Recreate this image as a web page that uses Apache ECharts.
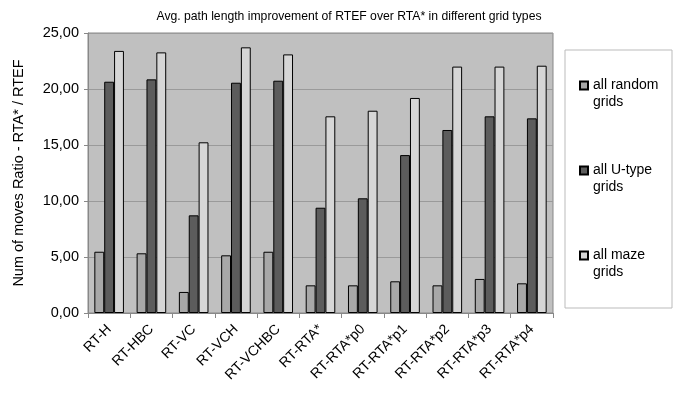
<!DOCTYPE html>
<html>
<head>
<meta charset="utf-8">
<script src="https://cdn.jsdelivr.net/npm/echarts@6/dist/echarts.min.js"></script>
<style>
  html, body { margin: 0; padding: 0; background: #fff; }
  #chart { width: 688px; height: 394px; }
</style>
</head>
<body>
<div id="chart"></div>
<script>
// Grid variants compared
const categories = ['RT-H', 'RT-HBC', 'RT-VC', 'RT-VCH', 'RT-VCHBC', 'RT-RTA*',
  'RT-RTA*p0', 'RT-RTA*p1', 'RT-RTA*p2', 'RT-RTA*p3', 'RT-RTA*p4'];

// Ratio RTA* / RTEF per grid type
const randomGrids = [5.47, 5.33, 1.88, 5.15, 5.47, 2.47, 2.47, 2.83, 2.47, 3.04, 2.65];
const uTypeGrids  = [20.65, 20.86, 8.72, 20.56, 20.74, 9.40, 10.24, 14.10, 16.34, 17.56, 17.38];
const mazeGrids   = [23.40, 23.27, 15.24, 23.72, 23.09, 17.56, 18.06, 19.20, 22.00, 22.00, 22.08];

const seriesNames = ['all random grids', 'all U-type grids', 'all maze grids'];
const legendLabels = ['all random\ngrids', 'all U-type\ngrids', 'all maze\ngrids'];

const chart = echarts.init(document.getElementById('chart'));
const font = 'Liberation Sans, Arial, sans-serif';

const barSeries = (name, data, color) => ({
  name: name,
  type: 'bar',
  data: data,
  barGap: '0%',
  barCategoryGap: '30%',
  itemStyle: { color: color, borderColor: '#000', borderWidth: 1 },
  emphasis: { disabled: true }
});

chart.setOption({
  animation: false,
  textStyle: { fontFamily: font },
  title: {
    text: 'Avg. path length improvement of RTEF over RTA* in different grid types',
    left: 344,
    textAlign: 'center',
    top: 6,
    textStyle: { fontSize: 12.2, fontWeight: 'normal', color: '#000', fontFamily: font }
  },
  grid: {
    left: 88, right: 135, top: 33, bottom: 81,
    show: true,
    backgroundColor: '#c0c0c0',
    borderColor: '#888',
    borderWidth: 1
  },
  graphic: [{
    type: 'rect',
    shape: { x: 565, y: 50, width: 107, height: 258 },
    style: { fill: '#fff', stroke: '#bbb', lineWidth: 1 },
    z: 0
  }],
  legend: {
    orient: 'vertical',
    left: 574,
    top: 55,
    itemGap: 34,
    itemWidth: 8,
    itemHeight: 8,
    selectedMode: false,
    data: seriesNames.map(n => ({ name: n, icon: 'rect' })),
    formatter: name => ' \n' + legendLabels[seriesNames.indexOf(name)],
    textStyle: { fontSize: 14, color: '#000', lineHeight: 17, fontFamily: font }
  },
  xAxis: {
    type: 'category',
    data: categories,
    axisLine: { lineStyle: { color: '#888' } },
    axisTick: { show: true, length: 5, lineStyle: { color: '#888' } },
    axisLabel: { rotate: 45, fontSize: 14, color: '#000', margin: 14, interval: 0 }
  },
  yAxis: {
    type: 'value',
    name: 'Num of moves Ratio - RTA* / RTEF',
    nameLocation: 'middle',
    nameGap: 62,
    nameTextStyle: { fontSize: 14.5, color: '#000' },
    min: 0,
    max: 25,
    interval: 5,
    axisLine: { show: true, lineStyle: { color: '#888' } },
    axisTick: { show: true, inside: false, length: 4, lineStyle: { color: '#888' } },
    axisLabel: {
      fontSize: 14.5, color: '#000', margin: 9,
      formatter: v => v.toFixed(2).replace('.', ',')
    },
    splitLine: { lineStyle: { color: '#9a9a9a', width: 1 } }
  },
  series: [
    barSeries(seriesNames[0], randomGrids, '#a8a8a8'),
    barSeries(seriesNames[1], uTypeGrids, '#5c5c5c'),
    barSeries(seriesNames[2], mazeGrids, '#d6d6d6')
  ]
});
</script>
</body>
</html>
